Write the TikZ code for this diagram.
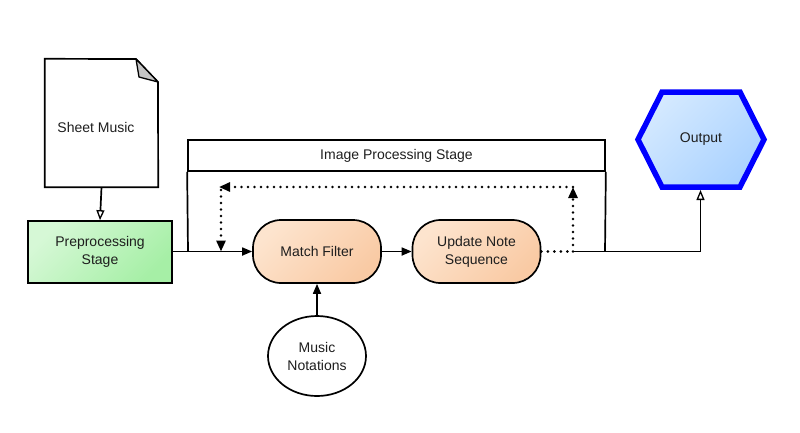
\documentclass[tikz,border=0pt]{standalone}
\usepackage{fontspec}
\setmainfont{Liberation Sans}
\usetikzlibrary{arrows.meta,shapes.geometric}
\definecolor{txt}{HTML}{1E1E1E}
\definecolor{grA}{HTML}{D6F8D6}
\definecolor{grB}{HTML}{A6EFA6}
\definecolor{orA}{HTML}{FDE4CE}
\definecolor{orB}{HTML}{F9CAA4}
\definecolor{blA}{HTML}{D4E9FF}
\definecolor{blB}{HTML}{AAD2FF}
\definecolor{foldgray}{HTML}{C4C4C4}
\tikzset{
  lbl/.style={font=\fontsize{14}{18}\selectfont, text=txt, align=center},
  grad/.style 2 args={top color=#1, bottom color=#2, shading angle=45},
  procbox/.style={lbl, draw, line width=1.7pt, rounded corners=28pt, minimum width=128pt, minimum height=63pt, grad={orA}{orB}},
  solidarr/.style={line width=1.7pt, -{Triangle[length=10pt,width=8pt]}},
  openarr/.style={line width=1.7pt, -{Triangle[open,length=10pt,width=8pt,line width=1.3pt]}},
  dotline/.style={line width=2.8pt, line cap=round, dash pattern=on 0pt off 6.5pt},
  dotarr/.style={dotline, -{Triangle[length=11pt,width=9pt]}},
}
\begin{document}
\begin{tikzpicture}[x=1pt,y=-1pt]
\useasboundingbox (0,0) rectangle (800,432);

% Sheet music document
\node[minimum width=113pt, minimum height=128pt, inner sep=0pt] (doc) at (101.5,123) {};
\draw[line width=1.7pt, fill=white] (doc.north west) -- (136,59) -- (158,82) -- (doc.south east) -- (doc.south west) -- cycle;
\draw[line width=1.3pt, fill=foldgray, line join=round] (136,59) -- (139,77) -- (158,82) -- cycle;
\node[lbl] (doctext) at (96,127) {Sheet Music};

% Preprocessing stage
\node[lbl, draw, line width=1.7pt, minimum width=144pt, minimum height=62pt, grad={grA}{grB}] (pre) at (100,252) {Preprocessing\\Stage};

% Image processing stage frame
\node[lbl, draw, line width=1.7pt, minimum width=417pt, minimum height=31pt, inner sep=0pt] (ips) at (396.5,155.5) {Image Processing Stage};
\coordinate (fl) at (188,251.5);
\coordinate (fr) at (605,251.5);
\draw[line width=1.7pt] (ips.south west) -- (fl);
\draw[line width=1.7pt] (ips.south east) -- (fr);

% Process nodes
\node[procbox] (mf) at (317,251.5) {Match Filter};
\node[procbox] (uns) at (476.5,251.5) {Update Note\\Sequence};

% Music notations
\node[lbl, draw, ellipse, line width=1.7pt, fill=white, minimum width=98pt, minimum height=80pt, inner sep=0pt] (mn) at (317,356) {Music\\Notations};

% Output hexagon
\node[minimum width=126pt, minimum height=95pt, inner sep=0pt] (out) at (701,139.5) {};
\fill[grad={blA}{blB}] (638,139.5) -- (662,92) -- (740,92) -- (764,139.5) -- (740,187) -- (662,187) -- cycle;
\draw[line width=5.5pt, color=blue, line join=miter] (638,139.5) -- (662,92) -- (740,92) -- (764,139.5) -- (740,187) -- (662,187) -- cycle;
\node[lbl] (outtext) at (out.center) {Output};

% Connectors
\draw[openarr] (doc.south) -- (pre.north);
\draw[solidarr] (pre.east |- mf.west) -- (mf.west);
\draw[solidarr] (mf.east) -- (uns.west);
\draw[solidarr] (mn.north) -- (mf.south);

\coordinate (c1) at (573,251.5);
\coordinate (c2) at (573,187);
\coordinate (c3) at (219,187);
\coordinate (c4) at (221,251.5);
\coordinate (c5) at (700.5,251.5);
\draw[dotline] (uns.east) -- (c1);
\draw[dotarr] (c1) -- (c2);
\draw[dotline] (c2) -- (221,187);
\draw[dotarr] (227,187) -- (c3);
\draw[dotarr] (221,190) -- (c4);
\draw[line width=1.7pt] (c1) -- (c5);
\draw[openarr] (c5) -- (700.5,190);
\end{tikzpicture}
\end{document}
